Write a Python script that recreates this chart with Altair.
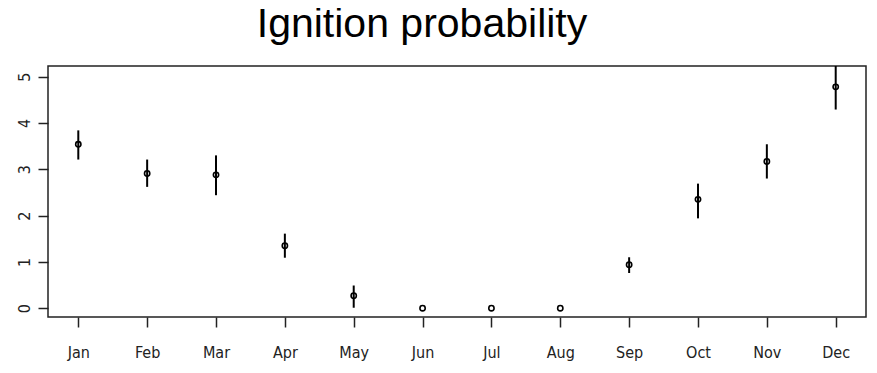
import altair as alt
import pandas as pd

months = ["Jan", "Feb", "Mar", "Apr", "May", "Jun", "Jul", "Aug", "Sep", "Oct", "Nov", "Dec"]
month_idx = list(range(1, 13))
prob = [3.54, 2.91, 2.88, 1.35, 0.27, 0.0, 0.0, 0.0, 0.94, 2.35, 3.17, 4.78]
lower = [3.21, 2.62, 2.44, 1.09, 0.01, 0.0, 0.0, 0.0, 0.76, 1.94, 2.80, 4.29]
upper = [3.84, 3.21, 3.30, 1.61, 0.49, 0.0, 0.0, 0.0, 1.10, 2.69, 3.54, 5.30]
y_ticks = [0, 1, 2, 3, 4, 5]

df = pd.DataFrame({"m": month_idx, "month": months, "p": prob, "lo": lower, "hi": upper})

label_expr = "[" + ",".join("'%s'" % m for m in months) + "][datum.value - 1]"
label_font = "'DejaVu Sans Condensed', 'Liberation Sans', Arial, sans-serif"

x = alt.X("m:Q",
          scale=alt.Scale(domain=[0.56, 12.44], nice=False, zero=False),
          axis=alt.Axis(values=month_idx, labelExpr=label_expr, title=None,
                        labelPadding=17, labelFontSize=16))
y = alt.Y("p:Q",
          scale=alt.Scale(domain=[-0.19, 5.23], nice=False, zero=False),
          axis=alt.Axis(values=y_ticks, title=None, labelAngle=270,
                        labelAlign="center", labelBaseline="bottom",
                        labelPadding=6, labelFontSize=16))

bars = alt.Chart(df).mark_rule(color="black", strokeWidth=2, clip=True).encode(
    x=x, y=alt.Y("lo:Q", scale=alt.Scale(domain=[-0.19, 5.23], nice=False, zero=False)), y2="hi:Q")
pts = alt.Chart(df).mark_point(shape="circle", filled=False, size=28, strokeWidth=1.6,
                               color="black", opacity=1, clip=True).encode(x=x, y=y)

chart = (bars + pts).properties(
    width=818, height=251,
    autosize=alt.AutoSizeParams(type="none"),
    padding={"left": 40, "top": 58, "right": 3, "bottom": 48},
    title=alt.TitleParams("Ignition probability", fontSize=41, font="Liberation Sans",
                          fontWeight="normal", anchor="middle", dx=-35, offset=-12,
                          baseline="alphabetic", color="black"),
).configure_view(stroke="#222", strokeWidth=1.5).configure_axis(
    domain=False, grid=False, tickColor="#222", tickWidth=1.5, tickSize=10,
    labelFont=label_font, labelColor="#222",
)

chart.save("out.html", embed_options={"renderer": "svg", "actions": False})
